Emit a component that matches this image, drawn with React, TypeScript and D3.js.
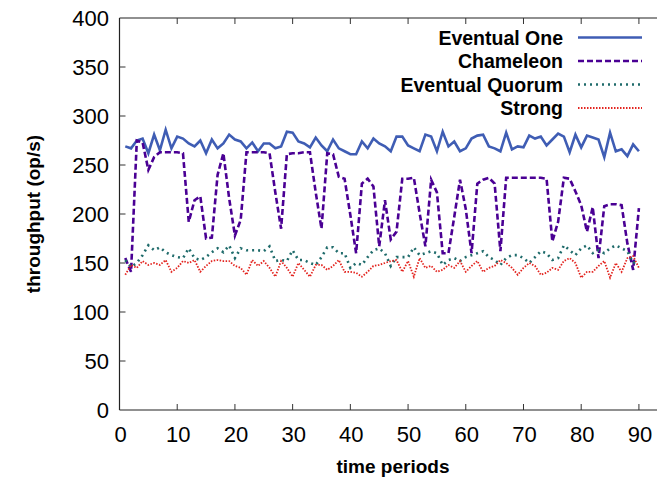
import React from "react";
import * as d3 from "d3";

const periods: number[] = Array.from({ length: 90 }, (_, i) => i + 1);

const eventualOne: number[] = [
  269, 267, 275, 277, 262, 281, 265, 286, 267, 279,
  277, 272, 269, 275, 262, 276, 267, 272, 281, 276,
  274, 267, 273, 264, 272, 272, 267, 269, 284, 283,
  274, 272, 268, 278, 270, 264, 276, 267, 264, 261,
  261, 274, 267, 277, 272, 269, 264, 279, 279, 270,
  267, 264, 281, 279, 264, 284, 269, 274, 264, 267,
  277, 280, 281, 269, 267, 264, 283, 266, 269, 268,
  280, 277, 279, 270, 276, 282, 279, 263, 281, 268,
  280, 278, 276, 258, 283, 264, 266, 259, 271, 264,
];

const chameleon: number[] = [
  155, 141, 275, 273, 245, 258, 263, 263, 263, 263,
  262, 192, 214, 218, 175, 176, 240, 262, 216, 178,
  194, 263, 263, 263, 263, 262, 222, 185, 261, 262,
  262, 263, 263, 222, 185, 262, 261, 238, 236, 199,
  160, 231, 236, 228, 167, 214, 174, 182, 236, 236,
  237, 201, 167, 235, 222, 160, 160, 197, 235, 205,
  160, 231, 235, 237, 231, 162, 237, 237, 237, 237,
  237, 237, 237, 236, 172, 192, 237, 236, 223, 209,
  182, 207, 155, 208, 210, 210, 209, 170, 143, 206,
];

const eventualQuorum: number[] = [
  153, 146, 150, 158, 168, 163, 166, 161, 158, 156,
  155, 165, 155, 153, 156, 161, 165, 161, 168, 155,
  165, 163, 163, 163, 162, 167, 152, 153, 152, 163,
  153, 153, 150, 148, 156, 166, 166, 160, 160, 145,
  150, 148, 156, 163, 165, 160, 147, 156, 156, 156,
  166, 158, 160, 162, 160, 148, 153, 155, 152, 156,
  158, 160, 162, 156, 153, 148, 155, 158, 158, 155,
  150, 156, 162, 160, 153, 155, 168, 163, 158, 165,
  168, 160, 163, 160, 165, 168, 165, 162, 150, 152,
];

const strong: number[] = [
  138, 148, 145, 152, 148, 150, 148, 153, 141, 145,
  152, 150, 153, 141, 147, 152, 153, 152, 152, 147,
  145, 138, 153, 147, 152, 145, 136, 152, 145, 136,
  150, 143, 136, 148, 148, 143, 147, 153, 141, 141,
  140, 136, 141, 147, 148, 150, 152, 153, 141, 152,
  136, 155, 145, 147, 141, 143, 148, 145, 152, 141,
  147, 152, 141, 145, 147, 153, 150, 145, 138, 145,
  150, 147, 138, 140, 145, 143, 152, 155, 150, 135,
  141, 141, 147, 152, 135, 150, 141, 155, 157, 145,
];

const xTicks: number[] = [0, 10, 20, 30, 40, 50, 60, 70, 80, 90];
const yTicks: number[] = [0, 50, 100, 150, 200, 250, 300, 350, 400];

const seriesNames: string[] = ["Eventual One", "Chameleon", "Eventual Quorum", "Strong"];

const W = 657;
const H = 480;

export default function App() {
  const x = d3.scaleLinear().domain([0, 94]).range([119.5, 662]);
  const y = d3.scaleLinear().domain([0, 400]).range([410, 18]);

  const styles = [
    { color: "#3f5db4", width: 2.6, dash: "" },
    { color: "#4a0094", width: 2.6, dash: "6,3" },
    { color: "#1f6b6b", width: 2.6, dash: "2,4" },
    { color: "#e3241f", width: 1.8, dash: "1.5,1.5" },
  ];
  const data = [eventualOne, chameleon, eventualQuorum, strong];

  const line = d3
    .line<number>()
    .x((_, i) => x(periods[i]))
    .y((d) => y(d));

  const font = "'Liberation Sans', Arial, Helvetica, sans-serif";
  const legendY = [37.5, 61, 84.5, 108];

  return (
    <svg
      width={W}
      height={H}
      style={{ position: "absolute", left: 0, top: 0, background: "#fff" }}
      fontFamily={font}
    >
      <rect x={0} y={0} width={W} height={H} fill="#fff" />
      {/* frame */}
      <line x1={x(0)} x2={W} y1={y(0)} y2={y(0)} stroke="#222" strokeWidth={1.2} />
      <line x1={x(0)} x2={W} y1={y(400)} y2={y(400)} stroke="#222" strokeWidth={1.2} />
      <line x1={x(0)} x2={x(0)} y1={y(0)} y2={y(400)} stroke="#222" strokeWidth={1.2} />

      {/* y ticks */}
      {yTicks.map((t) => (
        <g key={"y" + t}>
          {t > 0 && t < 400 && (
            <line x1={x(0)} x2={x(0) + 6} y1={y(t)} y2={y(t)} stroke="#333" strokeWidth={1} />
          )}
          <text
            x={109}
            y={y(t) + 8}
            textAnchor="end"
            fontSize={22}
            fill="#000"
          >
            {t}
          </text>
        </g>
      ))}

      {/* x ticks */}
      {xTicks.map((t) => (
        <g key={"x" + t}>
          {t > 0 && (
            <>
              <line x1={x(t)} x2={x(t)} y1={y(0)} y2={y(0) - 6} stroke="#333" strokeWidth={1} />
              <line x1={x(t)} x2={x(t)} y1={y(400)} y2={y(400) + 6} stroke="#333" strokeWidth={1} />
            </>
          )}
          <text x={x(t) + 1} y={442} textAnchor="middle" fontSize={22} fill="#000">
            {t}
          </text>
        </g>
      ))}

      {/* axis titles */}
      <text x={393} y={473} textAnchor="middle" fontSize={19} fontWeight="bold" fill="#000">
        time periods
      </text>
      <text
        transform={`translate(40,214) rotate(-90)`}
        textAnchor="middle"
        fontSize={19}
        fontWeight="bold"
        fill="#000"
      >
        throughput (op/s)
      </text>

      {/* series */}
      {data.map((vals, k) => (
        <path
          key={"s" + k}
          d={line(vals) || ""}
          fill="none"
          stroke={styles[k].color}
          strokeWidth={styles[k].width}
          strokeDasharray={styles[k].dash || undefined}
          strokeLinejoin="miter"
        />
      ))}

      {/* legend */}
      {seriesNames.map((name, k) => (
        <g key={"l" + k}>
          <text
            x={563}
            y={legendY[k] + 7}
            textAnchor="end"
            fontSize={19.5}
            fontWeight="bold"
            fill="#000"
          >
            {name}
          </text>
          <line
            x1={578}
            x2={642}
            y1={legendY[k]}
            y2={legendY[k]}
            stroke={styles[k].color}
            strokeWidth={styles[k].width}
            strokeDasharray={styles[k].dash || undefined}
          />
        </g>
      ))}
    </svg>
  );
}
